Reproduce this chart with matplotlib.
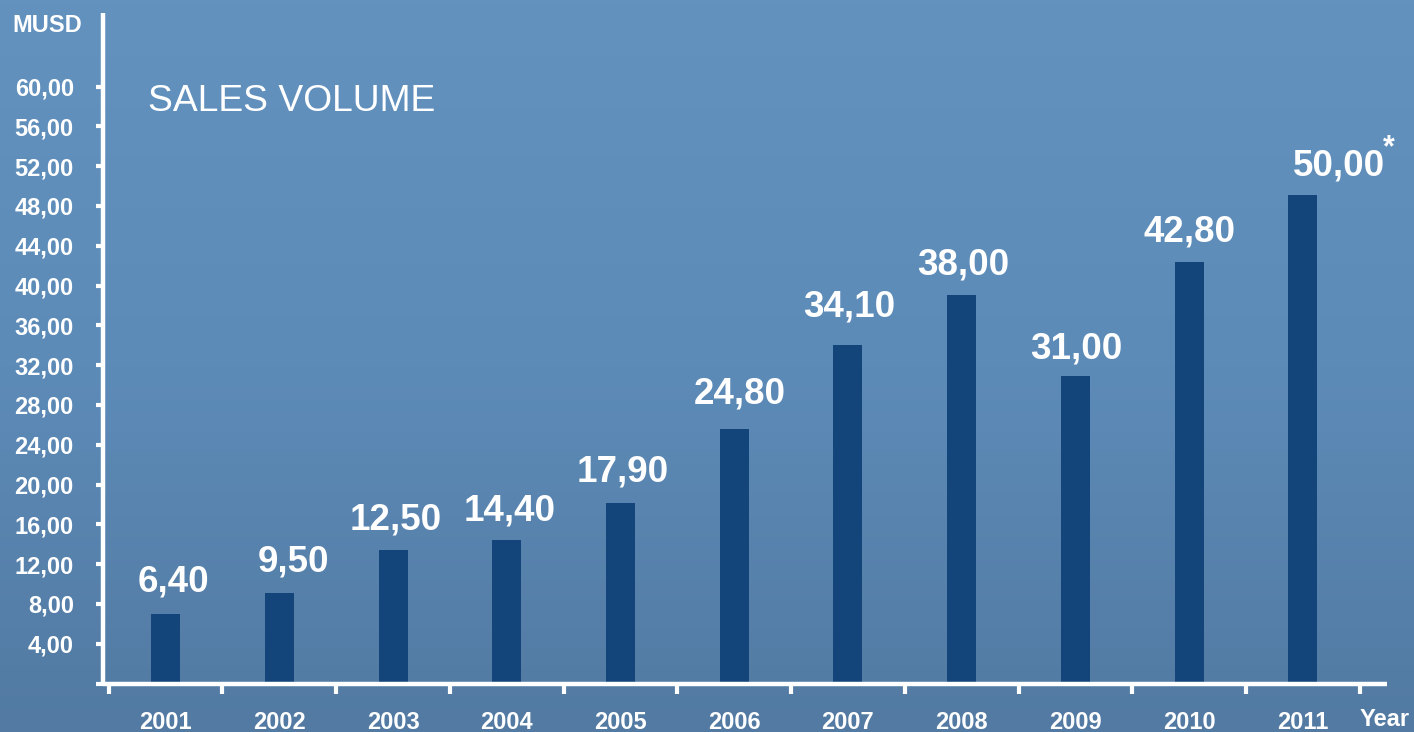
import numpy as np
import matplotlib.pyplot as plt

plt.rcParams['font.family'] = ['Liberation Sans', 'DejaVu Sans']

# data
years = ['2001', '2002', '2003', '2004', '2005', '2006', '2007', '2008', '2009', '2010', '2011']
bar_heights = [7.0, 9.1, 13.4, 14.4, 18.1, 25.6, 34.0, 39.1, 30.9, 42.4, 49.1]
value_labels = ['6,40', '9,50', '12,50', '14,40', '17,90', '24,80', '34,10', '38,00', '31,00', '42,80', '50,00*']
y_ticks = [4, 8, 12, 16, 20, 24, 28, 32, 36, 40, 44, 48, 52, 56, 60]

# small nudges of the value labels (pixels), as placed in the original
label_dx = [8, 14, 3, 3, 2, 6, 1, 2, 1, 0, 36]
label_dy = [35, 34, 34, 33, 35, 38, 42, 33, 31, 33, 33]

W, H = 1414, 732
fig = plt.figure(figsize=(W / 100, H / 100), dpi=100)

# background gradient
bg = fig.add_axes([0, 0, 1, 1])
top = np.array([99, 146, 191]) / 255
mid = np.array([93, 139, 184]) / 255
bot = np.array([82, 122, 162]) / 255
t = np.linspace(0, 1, 200)[:, None]
grad = np.where(t < 0.5, top + (mid - top) * (t / 0.5), mid + (bot - mid) * ((t - 0.5) / 0.5))
grad = np.repeat(grad[:, None, :], 2, axis=1)
bg.imshow(grad, aspect='auto', extent=[0, 1, 0, 1])
bg.axis('off')

# main axes placed in pixels
left, right, ytop, ybot = 103, 1387, 13, 683.5
ax = fig.add_axes([left / W, (H - ybot) / H, (right - left) / W, (ybot - ytop) / H])
ax.patch.set_alpha(0)

x = np.arange(len(years))
ax.bar(x, bar_heights, width=0.255, color='#14457a', zorder=2)

ax.set_xlim(-0.55, 10.74)
ax.set_ylim(0, 67.4)

for s in ['top', 'right']:
    ax.spines[s].set_visible(False)
for s in ['left', 'bottom']:
    ax.spines[s].set_color('white')
    ax.spines[s].set_linewidth(3.2)
    ax.spines[s].set_capstyle('butt')

ax.set_yticks([0] + y_ticks)
ax.set_yticklabels([''] + ['%d,00' % v for v in y_ticks])
ax.tick_params(axis='y', colors='white', length=5, width=3, pad=16, labelsize=17)
for lab in ax.get_yticklabels():
    lab.set_fontweight('bold')

ax.set_xticks(np.arange(-0.5, 11, 1))
ax.set_xticklabels([])
ax.tick_params(axis='x', which='major', colors='white', length=7, width=3, direction='out')
ax.set_xticks(x, minor=True)
ax.set_xticklabels(years, minor=True)
ax.tick_params(axis='x', which='minor', length=0, pad=20, labelsize=17, labelcolor='white')
for lab in ax.get_xticklabels(minor=True):
    lab.set_fontweight('bold')

px = 72 / 100
for i, (h, lab) in enumerate(zip(bar_heights, value_labels)):
    star = lab.endswith('*')
    txt = lab.rstrip('*')
    ax.annotate(txt, (i, h), xytext=(label_dx[i] * px, (label_dy[i] - 13) * px),
                textcoords='offset points', ha='center', va='baseline',
                color='white', fontsize=26.5, fontweight='bold')
    if star:
        ax.annotate('*', (i, h), xytext=((label_dx[i] + 50) * px, (label_dy[i] + 6) * px),
                    textcoords='offset points', ha='center', va='baseline',
                    color='white', fontsize=22, fontweight='bold')

fig.text(12 / W, 1 - 26 / H, 'MUSD', color='white', fontsize=17, fontweight='bold', va='center')
fig.text(148 / W, 1 - 111 / H, 'SALES VOLUME', color='white', fontsize=26.8, va='baseline')
fig.text(1385 / W, 1 - 720 / H, 'Year', color='white', fontsize=17, fontweight='bold',
         ha='center', va='center')

fig.savefig('out.png', dpi=100)
